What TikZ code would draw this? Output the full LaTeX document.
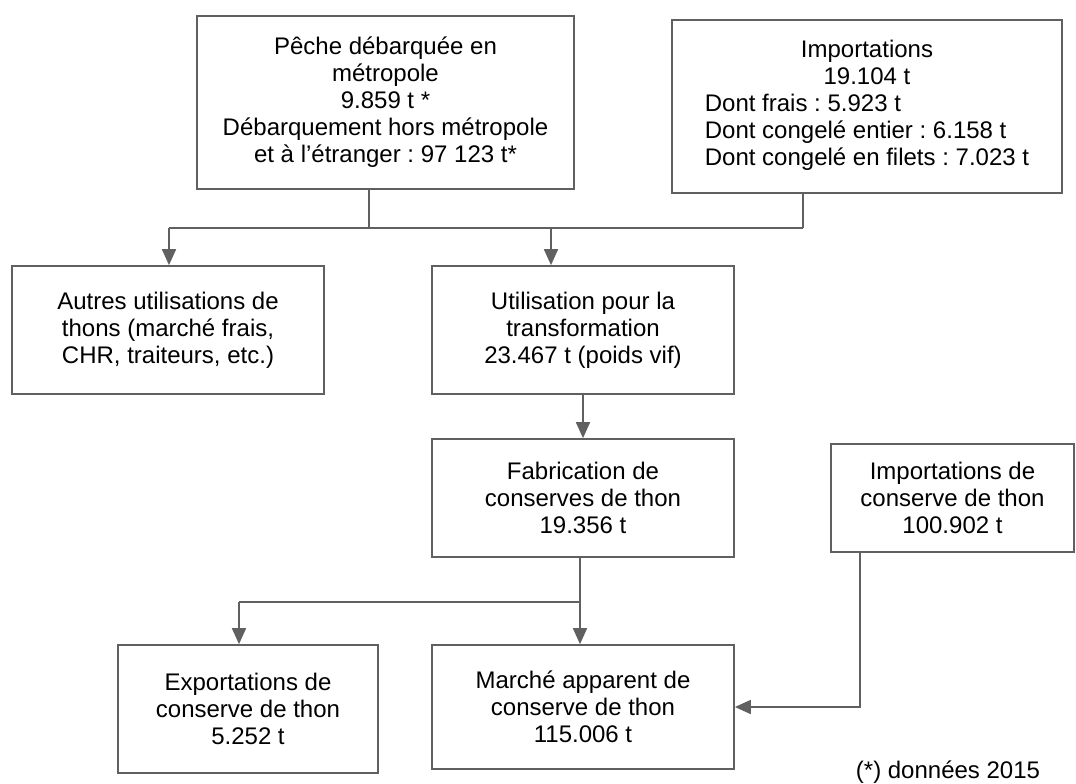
\documentclass[tikz,border=0pt]{standalone}
\usepackage{fontspec}
\setmainfont{Liberation Sans}
\usetikzlibrary{arrows.meta}
\definecolor{linegray}{HTML}{606060}
\frenchspacing
\begin{document}
\begin{tikzpicture}[x=0.75pt,y=-0.75pt,
  box/.style={draw=linegray, line width=1.3pt, fill=white, inner sep=0pt,
    align=center, font=\fontsize{18}{20.25}\selectfont},
  link/.style={draw=linegray, line width=1.3pt},
  arr/.style={link, -{Triangle[length=12pt,width=10.5pt]}},
  note/.style={font=\fontsize{18}{20.25}\selectfont, inner sep=0pt}]
\useasboundingbox (0,0) rectangle (1076,783);

% boxes
\node[box, minimum width=282.75pt, minimum height=129.75pt] (b1) at (385.5,102.5)
  {Pêche débarquée en\\métropole\\9.859 t *\\Débarquement hors métropole\\et à l’étranger : 97 123 t*};
\node[box, minimum width=292.5pt, minimum height=129.75pt] (b2) at (867,106.5)
  {\begin{tabular}{@{}l@{}}
   \multicolumn{1}{@{}c@{}}{Importations}\\
   \multicolumn{1}{@{}c@{}}{19.104 t}\\
   Dont frais : 5.923 t\\
   Dont congelé entier : 6.158 t\\
   Dont congelé en filets : 7.023 t
   \end{tabular}};
\node[box, minimum width=234pt, minimum height=96pt] (b3) at (168,330)
  {Autres utilisations de\\thons (marché frais,\\CHR, traiteurs, etc.)};
\node[box, minimum width=226.5pt, minimum height=96pt] (b4) at (583,330)
  {Utilisation pour la\\transformation\\23.467 t (poids vif)};
\node[box, minimum width=226.5pt, minimum height=88.5pt] (b5) at (583,498)
  {Fabrication de\\conserves de thon\\19.356 t};
\node[box, minimum width=182.25pt, minimum height=81pt] (b6) at (952.5,498)
  {Importations de\\conserve de thon\\100.902 t};
\node[box, minimum width=195pt, minimum height=96pt] (b7) at (248,709)
  {Exportations de\\conserve de thon\\5.252 t};
\node[box, minimum width=226.5pt, minimum height=93pt] (b8) at (583,707)
  {Marché apparent de\\conserve de thon\\115.006 t};

\node[note] (fn) at (948,772) {(*) données 2015};

% junction points
\coordinate (j1) at (369,228);
\coordinate (j2) at (803,228);
\coordinate (j3) at (169,228);
\coordinate (j4) at (551,228);
\coordinate (j5) at (580,602);
\coordinate (j6) at (239,602);
\coordinate (j7) at (860,707);

% connectors
\draw[link] (b1.south -| j1) -- (j1);
\draw[link] (b2.south -| j2) -- (j2);
\draw[link] (j3) -- (j2);
\draw[arr] (j3) -- (b3.north -| j3);
\draw[arr] (j4) -- (b4.north -| j4);
\draw[arr] (b4.south) -- (b5.north);
\draw[link] (b5.south -| j5) -- (j5);
\draw[link] (j6) -- (j5);
\draw[arr] (j6) -- (b7.north -| j6);
\draw[arr] (j5) -- (b8.north -| j5);
\draw[arr] (b6.south -| j7) -- (j7) -- (b8.east |- j7);
\end{tikzpicture}
\end{document}
